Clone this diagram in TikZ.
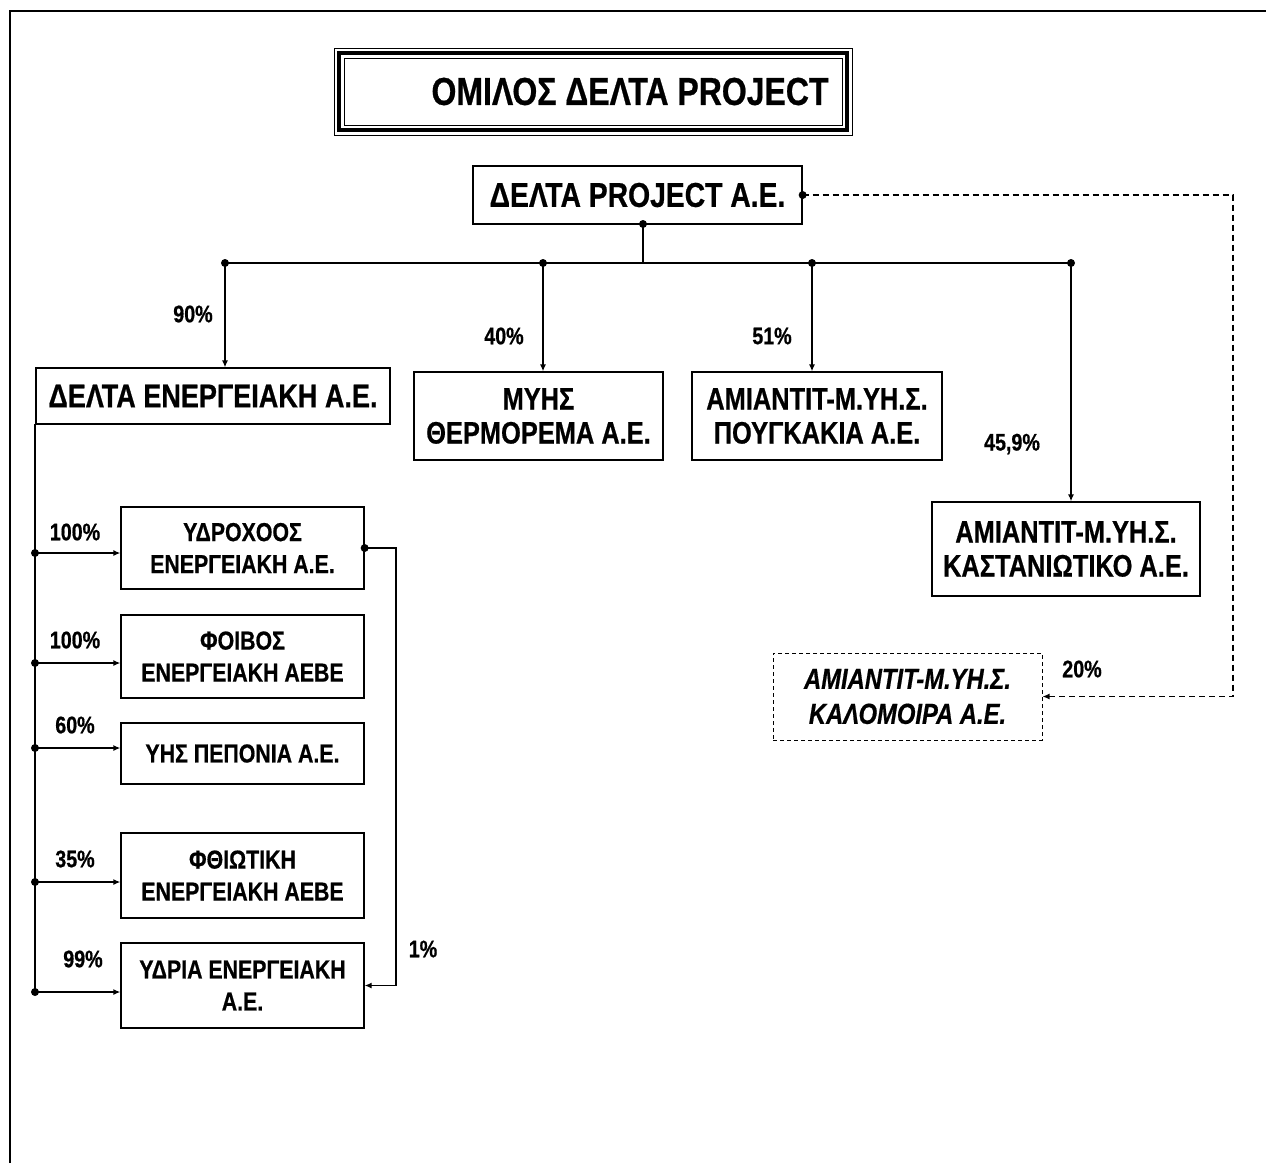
\documentclass[tikz,border=0pt]{standalone}
\usepackage{fontspec}
\setmainfont{Liberation Sans}[FakeStretch=0.82, BoldFeatures={FakeBold=0.6}, BoldItalicFeatures={FakeBold=0.6}]
\usetikzlibrary{arrows.meta}
\tikzset{
  box/.style={draw, line width=1.3pt, inner sep=0pt, align=center, font=\bfseries},
  bigtxt/.style={font=\bfseries\fontsize{31}{34}\selectfont},
  smalltxt/.style={font=\bfseries\fontsize{26}{32}\selectfont},
  pct/.style={font=\bfseries\fontsize{24}{28}\selectfont, inner sep=0pt},
  conn/.style={line width=1.3pt},
  arr/.style={line width=1.3pt, -{Latex[length=7pt,width=6pt]}},
  dashconn/.style={line width=1.3pt, dash pattern=on 6pt off 4pt},
  dot/.style={circle, fill=black, inner sep=0pt, minimum size=8pt}
}
\begin{document}
\begin{tikzpicture}[x=1pt,y=-1pt]
\useasboundingbox (0,0) rectangle (1266,1163);
% outer frame (top and left visible)
\draw[line width=2pt] (10,1163) -- (10,11) -- (1266,11);
% title frame
\draw[line width=1pt] (334,48) rectangle (852,135);
\draw[line width=4pt] (339,53) rectangle (847,130);
\draw[line width=1pt] (344,58) rectangle (842,125);
\node[font=\bfseries\fontsize{39}{44}\selectfont] (title) at (630,91.5) {ΟΜΙΛΟΣ ΔΕΛΤΑ PROJECT};
% main
\node[box, minimum width=329pt, minimum height=58pt, font=\bfseries\fontsize{34.5}{38}\selectfont] (main) at (637.5,195) {ΔΕΛΤΑ PROJECT Α.Ε.};
% level 1 boxes
\node[box, font=\bfseries\fontsize{33}{38}\selectfont, minimum width=354pt, minimum height=56pt] (energ) at (213,396) {ΔΕΛΤΑ ΕΝΕΡΓΕΙΑΚΗ Α.Ε.};
\node[box, bigtxt, minimum width=249pt, minimum height=88pt] (myis) at (538.5,416) {ΜΥΗΣ\\ΘΕΡΜΟΡΕΜΑ Α.Ε.};
\node[box, bigtxt, minimum width=250pt, minimum height=88pt] (pougk) at (817,416) {ΑΜΙΑΝΤΙΤ-Μ.ΥΗ.Σ.\\ΠΟΥΓΚΑΚΙΑ Α.Ε.};
\node[box, bigtxt, minimum width=268pt, minimum height=94pt] (kast) at (1066,549) {ΑΜΙΑΝΤΙΤ-Μ.ΥΗ.Σ.\\ΚΑΣΤΑΝΙΩΤΙΚΟ Α.Ε.};
\node[box, line width=1pt, dash pattern=on 4pt off 3pt, font=\bfseries\itshape\fontsize{29}{35}\selectfont, minimum width=269pt, minimum height=87pt] (kalom) at (907.5,696.5) {ΑΜΙΑΝΤΙΤ-Μ.ΥΗ.Σ.\\ΚΑΛΟΜΟΙΡΑ Α.Ε.};
% level 2 boxes
\node[box, smalltxt, minimum width=243pt, minimum height=82pt] (ydro) at (242.5,548) {ΥΔΡΟΧΟΟΣ\\ΕΝΕΡΓΕΙΑΚΗ Α.Ε.};
\node[box, smalltxt, minimum width=243pt, minimum height=83pt] (foiv) at (242.5,656.5) {ΦΟΙΒΟΣ\\ΕΝΕΡΓΕΙΑΚΗ ΑΕΒΕ};
\node[box, smalltxt, minimum width=243pt, minimum height=61pt] (pepon) at (242.5,753.5) {ΥΗΣ ΠΕΠΟΝΙΑ Α.Ε.};
\node[box, smalltxt, minimum width=243pt, minimum height=85pt] (fthio) at (242.5,875.5) {ΦΘΙΩΤΙΚΗ\\ΕΝΕΡΓΕΙΑΚΗ ΑΕΒΕ};
\node[box, smalltxt, minimum width=243pt, minimum height=85pt] (ydria) at (242.5,985.5) {ΥΔΡΙΑ ΕΝΕΡΓΕΙΑΚΗ\\Α.Ε.};
% bus
\coordinate (mbot) at (643,224);
\coordinate (mbus) at (643,263);
\coordinate (b1) at (225,263);
\coordinate (b2) at (543,263);
\coordinate (b3) at (812,263);
\coordinate (b4) at (1071,263);
\draw[conn] (mbot) -- (mbus);
\draw[conn] (b1) -- (b4);
\node[dot] at (mbot) {};
\foreach \b in {b1,b2,b3,b4} \node[dot] at (\b) {};
\draw[arr] (b1) -- (b1 |- energ.north);
\draw[arr] (b2) -- (b2 |- myis.north);
\draw[arr] (b3) -- (b3 |- pougk.north);
\draw[arr] (b4) -- (b4 |- kast.north);
% left trunk
\coordinate (t0) at (35,424);
\coordinate (t1) at (35,553);
\coordinate (t2) at (35,663);
\coordinate (t3) at (35,748);
\coordinate (t4) at (35,882);
\coordinate (t5) at (35,992);
\draw[conn] (t0) -- (t5);
\foreach \t in {t1,t2,t3,t4,t5} \node[dot] at (\t) {};
\draw[arr] (t1) -- (t1 -| ydro.west);
\draw[arr] (t2) -- (t2 -| foiv.west);
\draw[arr] (t3) -- (t3 -| pepon.west);
\draw[arr] (t4) -- (t4 -| fthio.west);
\draw[arr] (t5) -- (t5 -| ydria.west);
% 1% connector
\coordinate (r1) at (396,548);
\coordinate (r2) at (396,985.5);
\draw[arr] (ydro.east) -- (r1) -- (r2) -- (ydria.east);
\node[dot] at (ydro.east) {};
% dashed 20% connector
\coordinate (d1) at (1233,195);
\coordinate (d2) at (1233,696.5);
\draw[dashconn, -{Latex[length=7pt,width=6pt]}] (main.east) -- (d1) -- (d2) -- (kalom.east);
\node[dot] at (main.east) {};
% percentages
\node[pct] (p90) at (193,314) {90\%};
\node[pct] (p40) at (504,336) {40\%};
\node[pct] (p51) at (772,336) {51\%};
\node[pct] (p459) at (1012,444) {45,9\%};
\node[pct] (p20) at (1082,669) {20\%};
\node[pct] (p100a) at (75,532) {100\%};
\node[pct] (p100b) at (75,640) {100\%};
\node[pct] (p60) at (75,725) {60\%};
\node[pct] (p35) at (75,859) {35\%};
\node[pct] (p99) at (83,959) {99\%};
\node[pct] (p1) at (423,949) {1\%};
\end{tikzpicture}
\end{document}
